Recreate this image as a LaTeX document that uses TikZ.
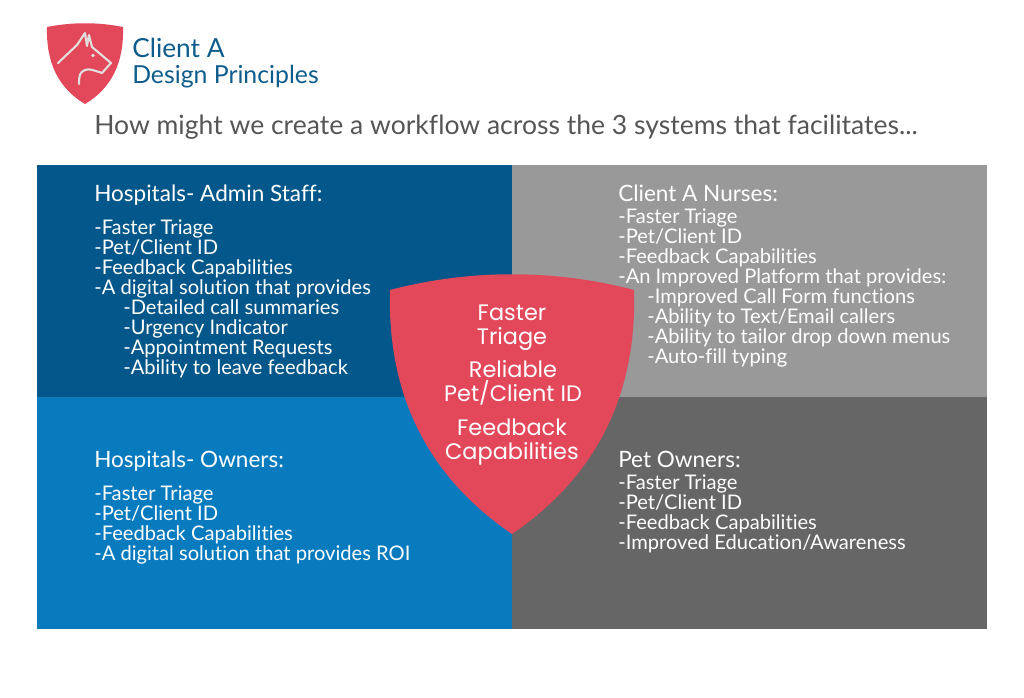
\documentclass[tikz,border=0pt]{standalone}
\usepackage{fontspec}
\setmainfont{Lato}[Ligatures=NoCommon]
\newfontfamily\shieldfont{Poppins}
\usetikzlibrary{positioning}
\definecolor{adminblue}{HTML}{03578A}
\definecolor{ownerblue}{HTML}{087BBF}
\definecolor{nursegray}{HTML}{999999}
\definecolor{petgray}{HTML}{666666}
\definecolor{shieldred}{HTML}{E2485A}
\definecolor{titleblue}{HTML}{0D5C8C}
\definecolor{asktext}{HTML}{555555}
\definecolor{doggray}{HTML}{E3DEDE}
\newcommand{\indentline}{\hspace*{21.75pt}}
\newcommand{\paneltitle}[1]{{\fontsize{16.9}{15}\selectfont #1}}
\begin{document}
\begin{tikzpicture}[
    x=0.75pt,y=-0.75pt,
    panel/.style={minimum width=356.25pt,minimum height=174pt,inner sep=0pt,outer sep=0pt,draw=none},
    paneltext/.style={anchor=north west,inner sep=0pt,align=left,text=white,
        font=\fontsize{15.1}{15}\selectfont},
    shieldtext/.style={align=center,text=white,inner sep=0pt,
        font=\shieldfont\fontsize{16.8}{18}\selectfont}
]
\path[use as bounding box] (0,0) rectangle (1024,697);

% four quadrants behind the shield
\node[panel,fill=adminblue,anchor=north west] (admin) at (37,165) {};
\node[panel,fill=nursegray,right=0pt of admin] (nurses) {};
\node[panel,fill=ownerblue,below=0pt of admin] (owners) {};
\node[panel,fill=petgray,right=0pt of owners] (pets) {};

% logo
\fill[shieldred] (47,27) .. controls (72,22) and (98,22) .. (123,27)
    .. controls (124,62) and (112,88) .. (85,104)
    .. controls (58,88) and (46,62) .. (47,27) -- cycle;
\draw[doggray,line width=1.6pt,line join=round,line cap=round]
    (58,63) -- (77,45) -- (85,33) -- (87,46) -- (89,35) -- (92,47)
    -- (111,63) -- (102,73) .. controls (95,71) and (90,68) .. (85,70)
    .. controls (80,72) and (79,75) .. (79,84);
\fill[doggray] (93,55.5) circle (1.8);
\node[anchor=west,inner sep=0pt,text=titleblue,font=\fontsize{19.7}{20}\selectfont] (clientname) at (132,48) {Client A};
\node[anchor=west,inner sep=0pt,text=titleblue,font=\fontsize{18.6}{20}\selectfont] (subtitle) at (132,77) {Design Principles};
\node[anchor=west,inner sep=0pt,text=asktext,font=\fontsize{19.9}{20}\selectfont] (ask) at (94,127)
    {How might we create a workflow across the 3 systems that facilitates...};

% quadrant texts
\node[paneltext] (admintext) at (94,185) {\paneltitle{Hospitals- Admin Staff:}\\[9.75pt]
    -Faster Triage\\
    -Pet/Client ID\\
    -Feedback Capabilities\\
    -A digital solution that provides\\
    \indentline-Detailed call summaries\\
    \indentline-Urgency Indicator\\
    \indentline-Appointment Requests\\
    \indentline-Ability to leave feedback};
\node[paneltext] (nursetext) at (618,185) {\paneltitle{Client A Nurses:}\\[1.5pt]
    -Faster Triage\\
    -Pet/Client ID\\
    -Feedback Capabilities\\
    -An Improved Platform that provides:\\
    \indentline-Improved Call Form functions\\
    \indentline-Ability to Text/Email callers\\
    \indentline-Ability to tailor drop down menus\\
    \indentline-Auto-fill typing};
\node[paneltext] (ownertext) at (94,451) {\paneltitle{Hospitals- Owners:}\\[9.75pt]
    -Faster Triage\\
    -Pet/Client ID\\
    -Feedback Capabilities\\
    -A digital solution that provides ROI};
\node[paneltext] (pettext) at (618,451) {\paneltitle{Pet Owners:}\\[1.5pt]
    -Faster Triage\\
    -Pet/Client ID\\
    -Feedback Capabilities\\
    -Improved Education/Awareness};

% centre shield
\fill[shieldred] (390,290) .. controls (470,269) and (554,269) .. (634,290)
    .. controls (637,390) and (600,474) .. (512,534)
    .. controls (424,474) and (387,390) .. (390,290) -- cycle;
\node[shieldtext] (triage) at (512,328) {Faster\\Triage};
\node[shieldtext] (petid) at (513,383) {Reliable\\Pet/Client ID};
\node[shieldtext] (feedback) at (512,442) {Feedback\\Capabilities};
\end{tikzpicture}
\end{document}
